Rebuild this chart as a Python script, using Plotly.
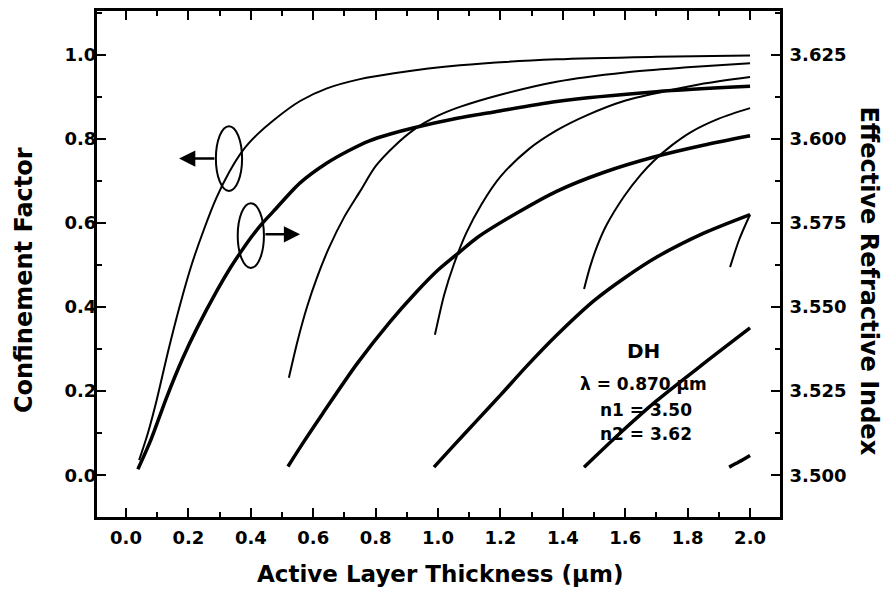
import plotly.graph_objects as go

# ---- Confinement factor (thin lines, left axis) ----
g0_x = [0.042, 0.07, 0.098, 0.135, 0.173, 0.21, 0.25, 0.29, 0.33, 0.374, 0.42, 0.474, 0.558, 0.644, 0.75, 0.859, 1.07, 1.38, 1.7, 2.0]
g0_y = [0.036, 0.10, 0.178, 0.295, 0.405, 0.50, 0.585, 0.66, 0.72, 0.772, 0.81, 0.845, 0.89, 0.92, 0.942, 0.956, 0.975, 0.989, 0.995, 0.998]
g1_x = [0.522, 0.55, 0.58, 0.612, 0.65, 0.70, 0.75, 0.80, 0.859, 0.923, 1.0, 1.07, 1.2, 1.38, 1.6, 1.8, 2.0]
g1_y = [0.232, 0.32, 0.40, 0.47, 0.54, 0.615, 0.675, 0.735, 0.782, 0.822, 0.855, 0.876, 0.905, 0.936, 0.958, 0.97, 0.98]
g2_x = [0.99, 1.02, 1.05, 1.09, 1.14, 1.2, 1.29, 1.38, 1.48, 1.596, 1.72, 1.84, 2.0]
g2_y = [0.334, 0.43, 0.50, 0.575, 0.645, 0.71, 0.775, 0.82, 0.857, 0.89, 0.912, 0.93, 0.947]
g3_x = [1.468, 1.487, 1.51, 1.54, 1.596, 1.65, 1.692, 1.75, 1.808, 1.9, 2.0]
g3_y = [0.443, 0.495, 0.545, 0.595, 0.663, 0.715, 0.748, 0.785, 0.815, 0.848, 0.873]
g4_x = [1.936, 1.965, 2.0]
g4_y = [0.495, 0.56, 0.62]

# ---- Effective refractive index (thick lines, right axis) ----
n0_x = [0.038, 0.08, 0.13, 0.18, 0.228, 0.291, 0.334, 0.366, 0.40, 0.436, 0.473, 0.558, 0.644, 0.71, 0.78, 0.85, 0.923, 1.05, 1.18, 1.38, 1.7, 2.0]
n0_y = [3.5018, 3.5106, 3.5231, 3.5344, 3.5438, 3.5548, 3.5616, 3.5661, 3.5706, 3.5748, 3.5785, 3.5869, 3.5928, 3.5963, 3.5994, 3.6015, 3.6033, 3.6059, 3.6080, 3.6111, 3.6140, 3.6156]
n1_x = [0.519, 0.57, 0.63, 0.74, 0.846, 0.93, 1.0, 1.07, 1.125, 1.25, 1.38, 1.53, 1.692, 1.85, 2.0]
n1_y = [3.5026, 3.5100, 3.5183, 3.5331, 3.5456, 3.5544, 3.5610, 3.5664, 3.5706, 3.5778, 3.5844, 3.5900, 3.5946, 3.5981, 3.6009]
n2_x = [0.987, 1.05, 1.125, 1.2, 1.285, 1.38, 1.5, 1.6, 1.7, 1.85, 2.0]
n2_y = [3.5024, 3.5088, 3.5163, 3.5238, 3.5325, 3.5416, 3.5519, 3.5588, 3.5648, 3.5719, 3.5775]
n3_x = [1.468, 1.583, 1.70, 1.85, 2.0]
n3_y = [3.5024, 3.5125, 3.5221, 3.5331, 3.5438]
n4_x = [1.933, 1.965, 2.0]
n4_y = [3.5024, 3.5040, 3.5059]

x_ticks = [0.0, 0.2, 0.4, 0.6, 0.8, 1.0, 1.2, 1.4, 1.6, 1.8, 2.0]
y_ticks = [0.0, 0.2, 0.4, 0.6, 0.8, 1.0]
y2_ticks = [3.500, 3.525, 3.550, 3.575, 3.600, 3.625]

FONT = "DejaVu Sans"
fig = go.Figure()

for xs, ys in [(g0_x, g0_y), (g1_x, g1_y), (g2_x, g2_y), (g3_x, g3_y), (g4_x, g4_y)]:
    fig.add_trace(go.Scatter(x=xs, y=ys, mode="lines", line=dict(color="black", width=2, shape="spline", smoothing=0.8),
                             yaxis="y", showlegend=False, hoverinfo="skip"))
for xs, ys in [(n0_x, n0_y), (n1_x, n1_y), (n2_x, n2_y), (n3_x, n3_y), (n4_x, n4_y)]:
    fig.add_trace(go.Scatter(x=xs, y=ys, mode="lines", line=dict(color="black", width=3.5, shape="spline", smoothing=0.8),
                             yaxis="y2", showlegend=False, hoverinfo="skip"))

y_lo, y_hi = -0.0993, 1.104
tickfont = dict(family=FONT, size=18, color="black", weight="bold")

fig.update_layout(
    width=888, height=597,
    margin=dict(l=97, r=108, t=8, b=80),
    paper_bgcolor="white", plot_bgcolor="white",
    showlegend=False,
    xaxis=dict(range=[-0.093, 2.096], tickvals=x_ticks, tickformat=".1f",
               ticks="inside", ticklen=9, tickwidth=2, tickcolor="black",
               minor=dict(dtick=0.1, tick0=0, ticks="inside", ticklen=5, tickwidth=2, tickcolor="black"),
               showline=True, linewidth=3, linecolor="black", mirror="ticks",
               showgrid=False, zeroline=False, tickfont=tickfont, ticklabelstandoff=2),
    yaxis=dict(range=[y_lo, y_hi], tickvals=y_ticks, tickformat=".1f",
               ticks="inside", ticklen=9, tickwidth=2, tickcolor="black",
               minor=dict(dtick=0.1, tick0=0, ticks="inside", ticklen=5, tickwidth=2, tickcolor="black"),
               showline=True, linewidth=3, linecolor="black", mirror=True,
               showgrid=False, zeroline=False, tickfont=tickfont, ticklabelstandoff=-6),
    yaxis2=dict(range=[3.5 + 0.125 * y_lo, 3.5 + 0.125 * y_hi], tickvals=y2_ticks, tickformat=".3f",
                overlaying="y", side="right",
                ticks="inside", ticklen=9, tickwidth=2, tickcolor="black",
                minor=dict(dtick=0.0125, tick0=3.5, ticks="inside", ticklen=5, tickwidth=2, tickcolor="black"),
                showline=True, linewidth=3, linecolor="black",
                showgrid=False, zeroline=False, tickfont=tickfont, ticklabelstandoff=3),
)

fig.add_annotation(text="Confinement Factor", xref="paper", yref="paper", x=-0.107, y=0.468,
                   textangle=-90, showarrow=False, xanchor="center", yanchor="middle",
                   font=dict(family=FONT, size=24, color="black", weight="bold"))
fig.add_annotation(text="Effective Refractive Index", xref="paper", yref="paper", x=1.130, y=0.466,
                   textangle=90, showarrow=False, xanchor="center", yanchor="middle",
                   font=dict(family=FONT, size=24, color="black", weight="bold"))
fig.add_annotation(text="Active Layer Thickness (µm)", xref="paper", yref="paper", x=0.5015, y=-0.112,
                   showarrow=False, xanchor="center", yanchor="middle",
                   font=dict(family=FONT, size=23, color="black", weight="bold"))

# Inset text
fig.add_annotation(text="DH", x=1.657, y=0.296, xref="x", yref="y", showarrow=False,
                   font=dict(family=FONT, size=20, color="black", weight="bold"))
info_font = dict(family=FONT, size=17, color="black", weight="bold")
fig.add_annotation(text="λ = 0.870 µm", x=1.657, y=0.218, xref="x", yref="y", showarrow=False, font=info_font)
fig.add_annotation(text="n1 = 3.50", x=1.667, y=0.154, xref="x", yref="y", showarrow=False, font=info_font)
fig.add_annotation(text="n2 = 3.62", x=1.667, y=0.099, xref="x", yref="y", showarrow=False, font=info_font)

# Ellipses and arrows indicating which axis
fig.add_shape(type="circle", xref="x", yref="y", x0=0.288, x1=0.372, y0=0.676, y1=0.830,
              line=dict(color="black", width=2))
fig.add_shape(type="circle", xref="x", yref="y", x0=0.358, x1=0.442, y0=0.493, y1=0.647,
              line=dict(color="black", width=2))
fig.add_annotation(x=0.17, y=0.753, ax=0.288, ay=0.753, xref="x", yref="y", axref="x", ayref="y",
                   text="", showarrow=True, arrowhead=2, arrowsize=1.3, arrowwidth=2.5, arrowcolor="black")
fig.add_annotation(x=0.558, y=0.573, ax=0.442, ay=0.573, xref="x", yref="y", axref="x", ayref="y",
                   text="", showarrow=True, arrowhead=2, arrowsize=1.3, arrowwidth=2.5, arrowcolor="black")

fig.write_html("out.html")
